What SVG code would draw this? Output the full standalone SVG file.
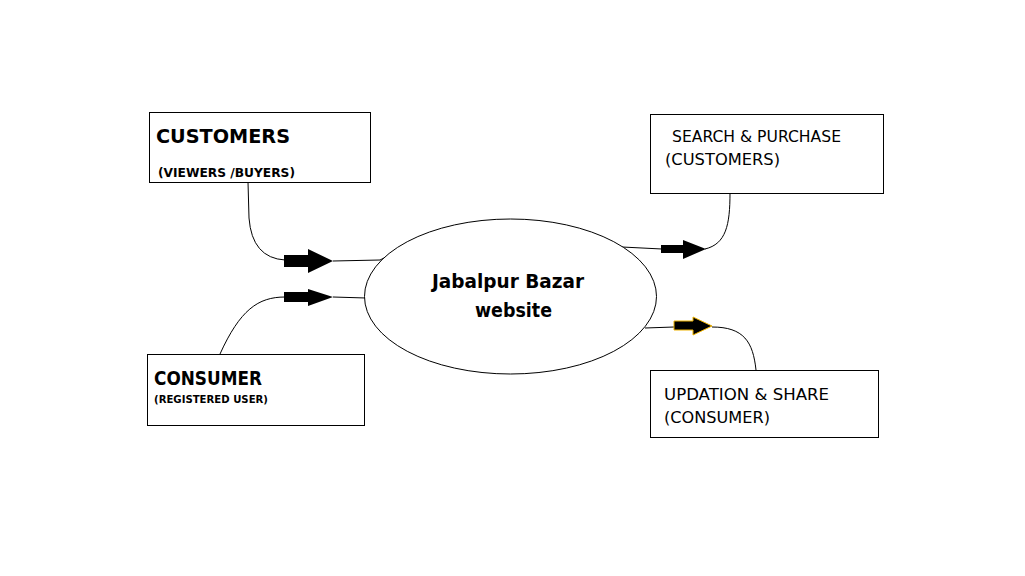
<svg xmlns="http://www.w3.org/2000/svg" width="1025" height="576" viewBox="0 0 1025 576">
<style>
.box{fill:#fff;stroke:#000;stroke-width:1}
.t{font-family:"DejaVu Sans","Liberation Sans",sans-serif;fill:#000}
.b{font-weight:bold}
.ln{fill:none;stroke:#000;stroke-width:1}
.arr{fill:#000;stroke:none}
.arr2{fill:#000;stroke:#f0b400;stroke-width:1}
</style>
<rect width="1025" height="576" fill="#fff"/>
<g id="connectors">
<path class="ln" d="M248,182 L249,218 Q252,258 285,260"/>
<path class="ln" d="M333,261 L380,260 L384,258"/>
<polygon class="arr" points="284,255 308,255 308,249 333,261 308,273 308,267 284,267"/>
<path class="ln" d="M220,354 C240,310 258,297 285,297"/>
<path class="ln" d="M333,297 L366,298"/>
<polygon class="arr" points="284,292 308,292 308,289 333,297 308,306 308,302 284,302"/>
<path class="ln" d="M622,247 L662,249"/>
<polygon class="arr" points="661,245 683,245 683,240 706,249 683,259 683,253 661,253"/>
<path class="ln" d="M705,249 C726,244 730,225 730,193"/>
<path class="ln" d="M645,328 L674,327"/>
<polygon class="arr2" points="674,321 693,321 693,317 712,326 693,335 693,330 674,330"/>
<path class="ln" d="M712,327 C744,327 753,342 756,370"/>
</g>
<g id="node-customers">
<rect class="box" x="149.5" y="112.5" width="221" height="70"/>
<text class="t b" x="156" y="143" font-size="19" textLength="134" lengthAdjust="spacingAndGlyphs">CUSTOMERS</text>
<text class="t b" x="158" y="177" font-size="12" textLength="137" lengthAdjust="spacingAndGlyphs">(VIEWERS /BUYERS)</text>
</g>
<g id="node-consumer">
<rect class="box" x="147.5" y="354.5" width="217" height="71"/>
<text class="t b" x="154" y="385" font-size="19" textLength="108" lengthAdjust="spacingAndGlyphs">CONSUMER</text>
<text class="t b" x="154" y="403" font-size="10" textLength="114" lengthAdjust="spacingAndGlyphs">(REGISTERED USER)</text>
</g>
<g id="node-website">
<ellipse class="box" cx="510.5" cy="296.5" rx="146" ry="77.5"/>
<text class="t b" x="432" y="288" font-size="20" textLength="152" lengthAdjust="spacingAndGlyphs">Jabalpur Bazar</text>
<text class="t b" x="475" y="317" font-size="20" textLength="77" lengthAdjust="spacingAndGlyphs">website</text>
</g>
<g id="node-search">
<rect class="box" x="650.5" y="114.5" width="233" height="79"/>
<text class="t" x="672" y="142" font-size="15" textLength="169" lengthAdjust="spacingAndGlyphs">SEARCH &amp; PURCHASE</text>
<text class="t" x="665" y="165" font-size="15" textLength="115" lengthAdjust="spacingAndGlyphs">(CUSTOMERS)</text>
</g>
<g id="node-updation">
<rect class="box" x="650.5" y="370.5" width="228" height="67"/>
<text class="t" x="664" y="400" font-size="15" textLength="165" lengthAdjust="spacingAndGlyphs">UPDATION &amp; SHARE</text>
<text class="t" x="664" y="423" font-size="15" textLength="106" lengthAdjust="spacingAndGlyphs">(CONSUMER)</text>
</g>
</svg>
